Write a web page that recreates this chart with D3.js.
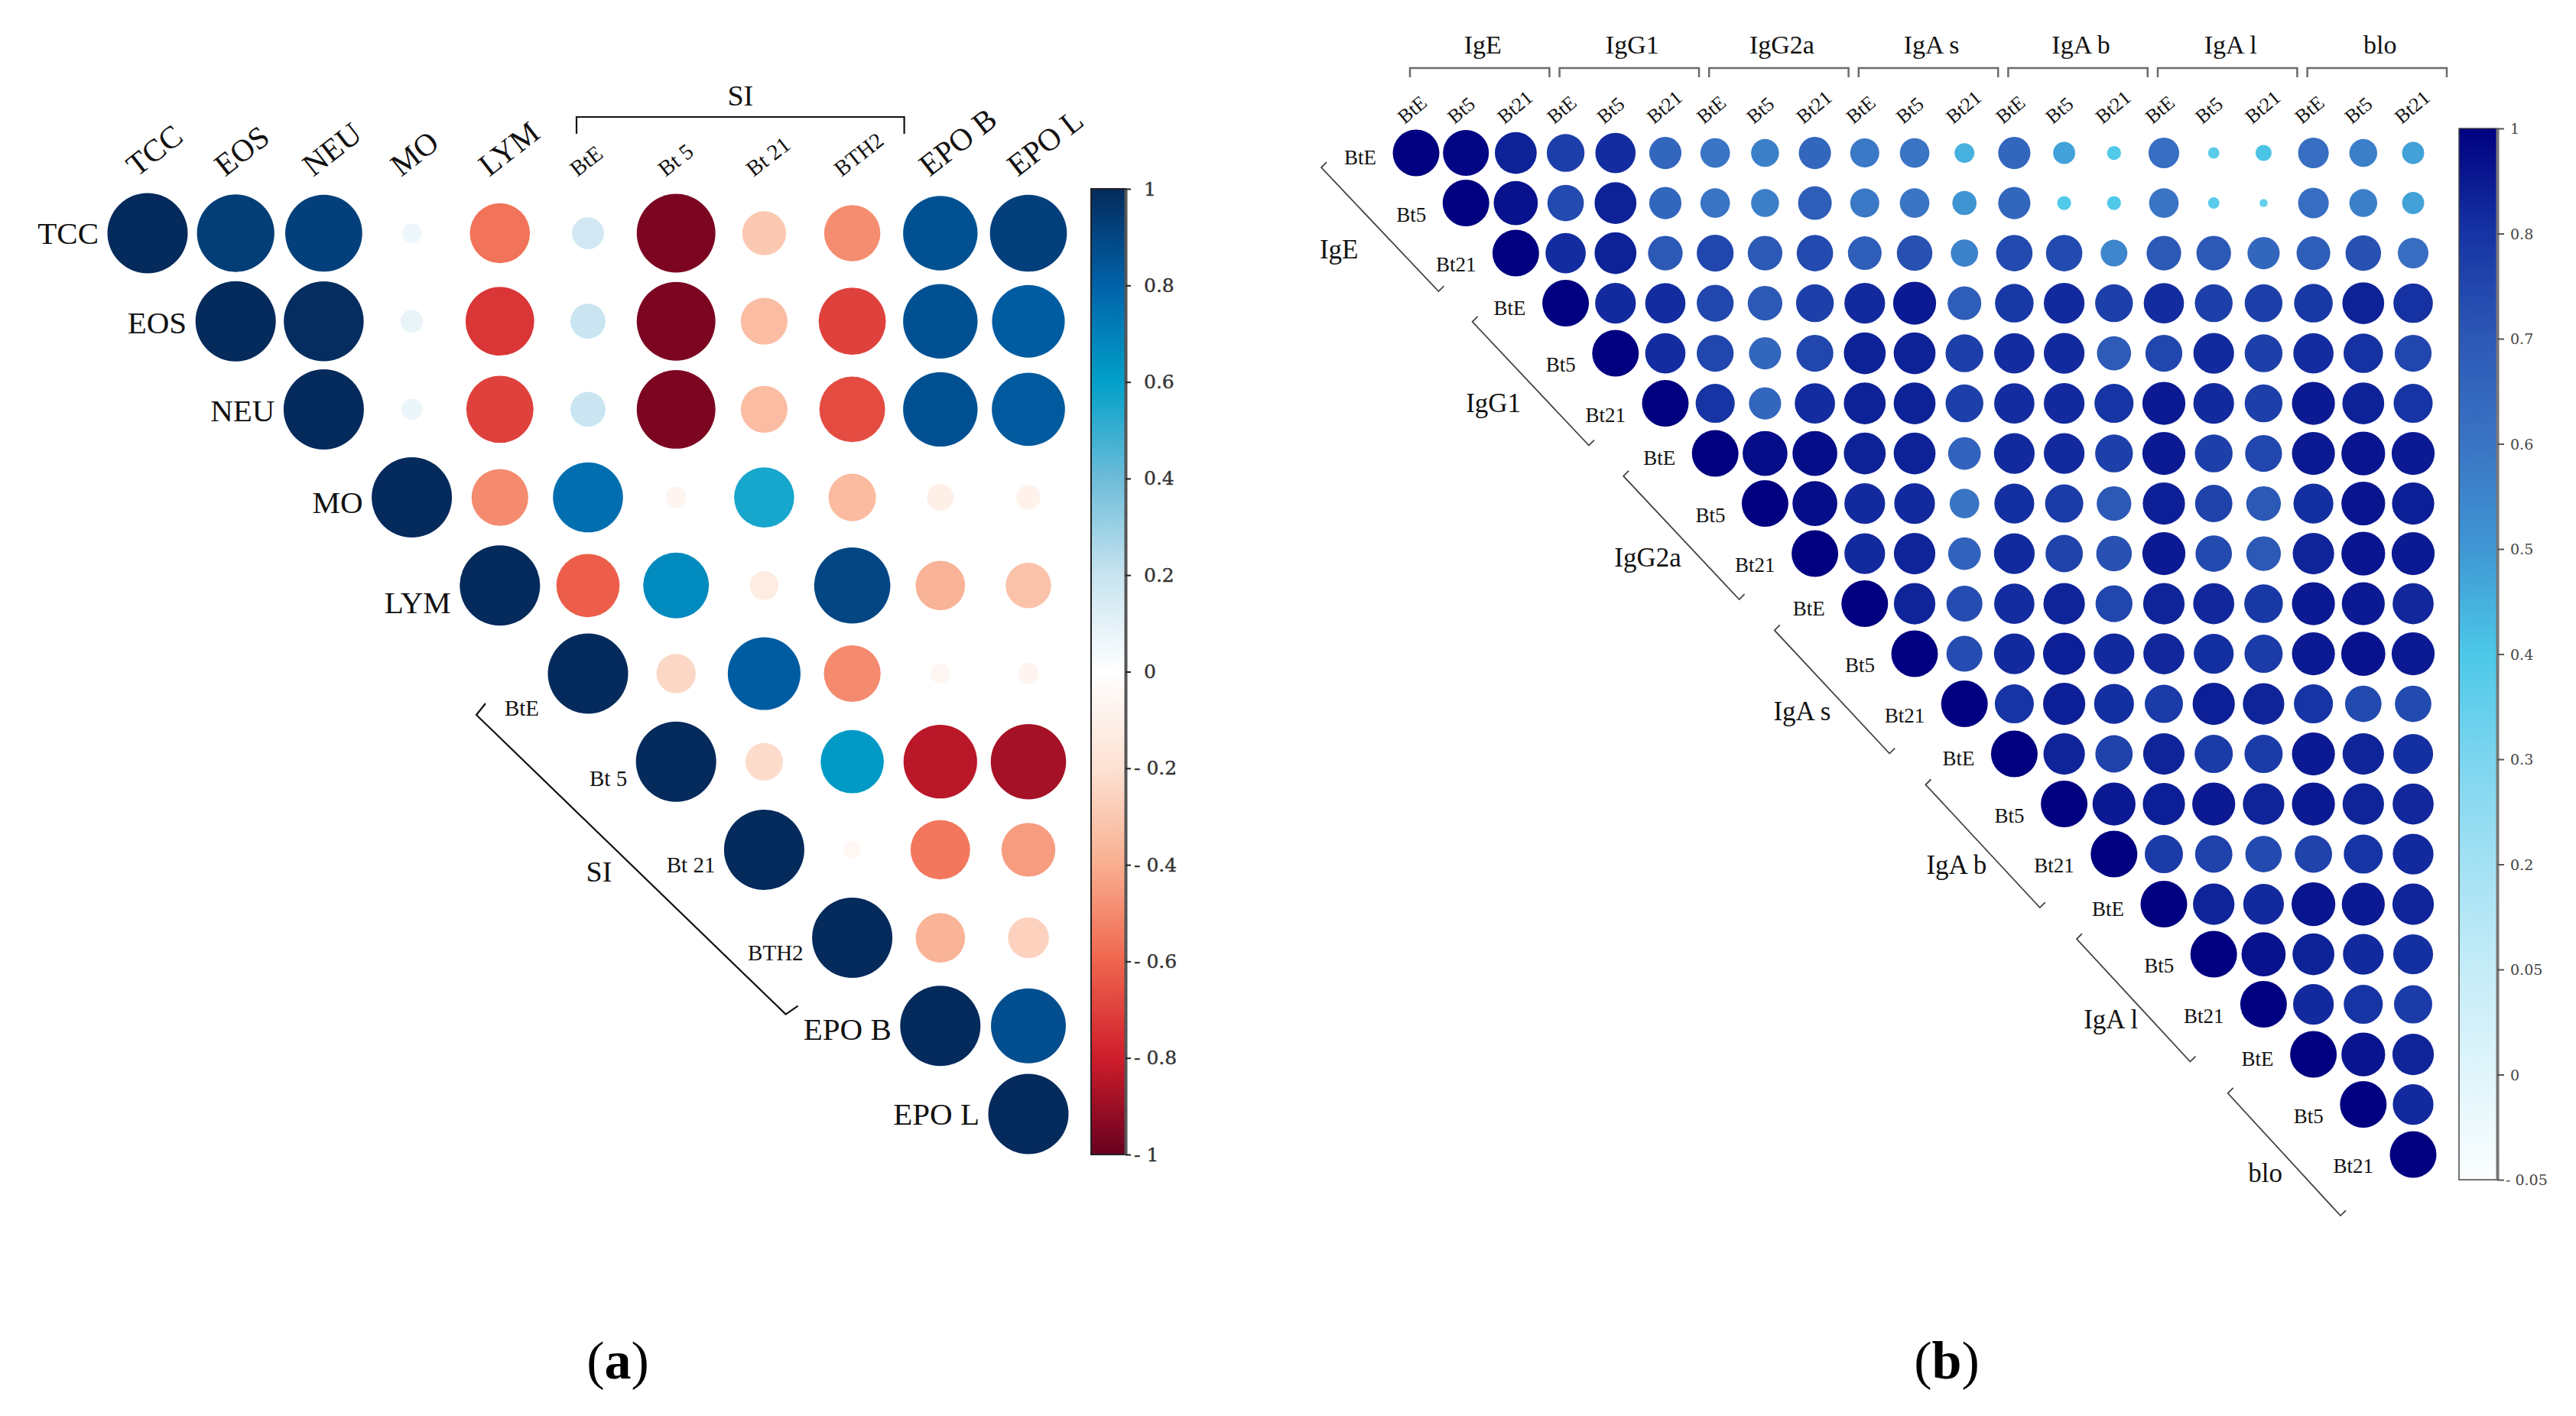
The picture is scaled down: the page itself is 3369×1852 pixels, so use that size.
<!DOCTYPE html>
<html><head><meta charset="utf-8">
<script src="https://cdn.jsdelivr.net/npm/d3@7"></script>
<style>html,body{margin:0;padding:0;background:#fff;} svg{display:block;}</style>
</head><body>
<svg id="chart" width="3369" height="1852"></svg>
<script>
// ================= Panel (a) data =================
const varsA = ["TCC","EOS","NEU","MO","LYM","BtE","Bt 5","Bt 21","BTH2","EPO B","EPO L"];
const smallLabelsA = ["BtE","Bt 5","Bt 21","BTH2"];
// upper-triangle rows (row i holds columns i..10)
const corrA_TCC  = [1, 0.93, 0.92, 0.06, -0.56, 0.16, -0.96, -0.30, -0.49, 0.86, 0.92];
const corrA_EOS  = [1, 0.99, 0.08, -0.73, 0.19, -0.96, -0.34, -0.70, 0.86, 0.82];
const corrA_NEU  = [1, 0.07, -0.70, 0.19, -0.96, -0.34, -0.67, 0.86, 0.83];
const corrA_MO   = [1, -0.50, 0.76, -0.07, 0.56, -0.35, -0.11, -0.09];
const corrA_LYM  = [1, -0.62, 0.67, -0.13, 0.90, -0.38, -0.32];
const corrA_BtE  = [1, -0.24, 0.82, -0.50, -0.06, -0.07];
const corrA_Bt5  = [1, -0.22, 0.62, -0.84, -0.88];
const corrA_Bt21 = [1, -0.05, -0.55, -0.45];
const corrA_BTH2 = [1, -0.38, -0.26];
const corrA_EPOB = [1, 0.87];
const corrA_EPOL = [1];
const ticksA = [1, 0.8, 0.6, 0.4, 0.2, 0, -0.2, -0.4, -0.6, -0.8, -1];
const tickLabelsA = ["1","0.8","0.6","0.4","0.2","0","- 0.2","- 0.4","- 0.6","- 0.8","- 1"];

// ================= Panel (b) data =================
const groupsB = ["IgE","IgG1","IgG2a","IgA s","IgA b","IgA l","blo"];
const subsB = ["BtE","Bt5","Bt21"];
const corrB_r0  = [1, 0.98, 0.87, 0.77, 0.83, 0.65, 0.60, 0.57, 0.65, 0.59, 0.60, 0.45, 0.65, 0.48, 0.39, 0.62, 0.37, 0.41, 0.62, 0.57, 0.48];
const corrB_r1  = [1, 0.93, 0.74, 0.87, 0.65, 0.60, 0.57, 0.68, 0.59, 0.60, 0.51, 0.65, 0.39, 0.39, 0.60, 0.37, 0.35, 0.62, 0.57, 0.48];
const corrB_r2  = [1, 0.83, 0.87, 0.70, 0.75, 0.70, 0.74, 0.68, 0.72, 0.56, 0.74, 0.74, 0.55, 0.70, 0.70, 0.65, 0.68, 0.72, 0.62];
const corrB_r3  = [1, 0.84, 0.83, 0.75, 0.70, 0.77, 0.84, 0.90, 0.68, 0.79, 0.84, 0.77, 0.83, 0.77, 0.77, 0.79, 0.87, 0.81];
const corrB_r4  = [1, 0.83, 0.75, 0.65, 0.75, 0.87, 0.87, 0.77, 0.83, 0.84, 0.69, 0.75, 0.84, 0.77, 0.83, 0.81, 0.75];
const corrB_r5  = [1, 0.80, 0.65, 0.83, 0.87, 0.87, 0.77, 0.83, 0.84, 0.80, 0.90, 0.84, 0.77, 0.90, 0.87, 0.80];
const corrB_r6  = [1, 0.95, 0.95, 0.87, 0.87, 0.66, 0.84, 0.84, 0.77, 0.90, 0.77, 0.75, 0.90, 0.92, 0.90];
const corrB_r7  = [1, 0.95, 0.84, 0.84, 0.60, 0.82, 0.78, 0.70, 0.88, 0.76, 0.70, 0.82, 0.92, 0.88];
const corrB_r8  = [1, 0.84, 0.86, 0.66, 0.84, 0.76, 0.72, 0.90, 0.74, 0.70, 0.86, 0.92, 0.90];
const corrB_r9  = [1, 0.86, 0.73, 0.83, 0.86, 0.75, 0.86, 0.85, 0.79, 0.90, 0.90, 0.85];
const corrB_r10 = [1, 0.73, 0.84, 0.88, 0.84, 0.85, 0.82, 0.78, 0.90, 0.93, 0.90];
const corrB_r11 = [1, 0.80, 0.88, 0.82, 0.78, 0.88, 0.86, 0.80, 0.74, 0.74];
const corrB_r12 = [1, 0.86, 0.76, 0.86, 0.78, 0.78, 0.90, 0.86, 0.82];
const corrB_r13 = [1, 0.90, 0.88, 0.90, 0.86, 0.90, 0.86, 0.85];
const corrB_r14 = [1, 0.78, 0.76, 0.74, 0.76, 0.80, 0.84];
const corrB_r15 = [1, 0.86, 0.84, 0.92, 0.90, 0.86];
const corrB_r16 = [1, 0.93, 0.87, 0.84, 0.82];
const corrB_r17 = [1, 0.84, 0.80, 0.78];
const corrB_r18 = [1, 0.92, 0.86];
const corrB_r19 = [1, 0.84];
const corrB_r20 = [1];
const ticksB = [1, 0.8, 0.7, 0.6, 0.5, 0.4, 0.3, 0.2, 0.05, 0, -0.05];
const tickLabelsB = ["1","0.8","0.7","0.6","0.5","0.4","0.3","0.2","0.05","0","- 0.05"];

// ================= styles =================
const coloursA = ["#052a5c","#0062a9","#01a0c9","#6dbcd9","#c7e4f0","#ffffff","#fde1d3","#f9ae8f","#ef654d","#cf1d2b","#67001f"];
const coloursB = ["#000080","#1634a4","#2c58b6","#3a74c4","#3f97d4","#4cc8e8","#7cd5ef","#a3e1f4","#c5ecf8","#e0f5fb","#fbfeff"];
const serif = "'Liberation Serif','Times New Roman',serif";
const tickFont = "'DejaVu Serif',serif";

const svg = d3.select("#chart");
svg.append("rect").attr("width",3369).attr("height",1852).attr("fill","#fff");
const defs = svg.append("defs");

// ================= Panel (a) =================
const corrA = [corrA_TCC,corrA_EOS,corrA_NEU,corrA_MO,corrA_LYM,corrA_BtE,corrA_Bt5,corrA_Bt21,corrA_BTH2,corrA_EPOB,corrA_EPOL];
const xA = d3.scaleBand().domain(varsA).range([135.4, 1402.6]);
const yA = d3.scaleBand().domain(varsA).range([247.4, 1514.6]);
const cxA = v => xA(v) + xA.bandwidth()/2;
const cyA = v => yA(v) + yA.bandwidth()/2;
const colorA = d3.scaleLinear().domain(ticksA).range(coloursA);
const radA = d3.scaleSqrt().domain([0,1]).range([0,52.5]);

const cellsA = [];
corrA.forEach((row,i) => row.forEach((v,k) => cellsA.push({r: varsA[i], c: varsA[i+k], v})));
const gA = svg.append("g");
gA.selectAll("circle.ca").data(cellsA).join("circle").attr("class","ca")
  .attr("cx", d => cxA(d.c)).attr("cy", d => cyA(d.r))
  .attr("r", d => radA(Math.abs(d.v))).attr("fill", d => colorA(d.v));

const isSmallA = v => smallLabelsA.includes(v);
const rowDyA = {"TCC":0,"EOS":2,"NEU":2,"MO":6,"LYM":22,"BtE":45,"Bt 5":22,"Bt 21":20,"BTH2":19,"EPO B":4,"EPO L":0};
gA.selectAll("text.rowA").data(varsA).join("text").attr("class","rowA")
  .attr("x", v => cxA(v) - 64).attr("y", v => cyA(v) + rowDyA[v])
  .attr("text-anchor","end").attr("dominant-baseline","central")
  .attr("font-family", serif).attr("font-size", v => isSmallA(v) ? 29 : 41).attr("fill","#111")
  .text(v => v);
gA.selectAll("text.colA").data(varsA).join("text").attr("class","colA")
  .attr("transform", v => `translate(${cxA(v)-14},232) rotate(-38)`)
  .attr("font-family", serif).attr("font-size", v => isSmallA(v) ? 29 : 41).attr("fill","#111")
  .text(v => v);

// SI top bracket
const siX1 = cxA("BtE") - 15, siX2 = cxA("BTH2") + 68;
gA.append("path").attr("d", `M${siX1},175V153H${siX2}V175`).attr("fill","none").attr("stroke","#111").attr("stroke-width",2.2);
gA.append("text").attr("x",(siX1+siX2)/2).attr("y",125).attr("text-anchor","middle").attr("dominant-baseline","central")
  .attr("font-family",serif).attr("font-size",38).attr("fill","#111").text("SI");
// SI left bracket
const p1 = [cxA("BtE") - 146, cyA("BtE") + 54];
const p2 = [cxA("BTH2") - 87, cyA("BTH2") + 100];
gA.append("path").attr("d", `M${p1[0]+12},${p1[1]-15}L${p1[0]},${p1[1]}L${p2[0]},${p2[1]}L${p2[0]+16},${p2[1]-11}`)
  .attr("fill","none").attr("stroke","#111").attr("stroke-width",2.2);
gA.append("text").attr("x", cxA("Bt 21") - 216).attr("y", cyA("Bt 21") + 29)
  .attr("text-anchor","middle").attr("dominant-baseline","central")
  .attr("font-family",serif).attr("font-size",38).attr("fill","#111").text("SI");

// colour bar (a)
const gradA = defs.append("linearGradient").attr("id","gradA").attr("x1",0).attr("x2",0).attr("y1",0).attr("y2",1);
gradA.selectAll("stop").data(ticksA).join("stop")
  .attr("offset",(d,i) => i/(ticksA.length-1)).attr("stop-color", d => colorA(d));
const cbA = {x:1427, y:247, w:45, h:1263};
const yCbA = d3.scaleLinear().domain([-1,1]).range([cbA.y+cbA.h, cbA.y]);
gA.append("rect").attr("x",cbA.x).attr("y",cbA.y).attr("width",cbA.w).attr("height",cbA.h)
  .attr("fill","url(#gradA)").attr("stroke","#222").attr("stroke-width",2);
const axA = gA.append("g").attr("transform",`translate(${cbA.x+cbA.w},0)`)
  .call(d3.axisRight(yCbA).tickValues(ticksA).tickSize(7).tickSizeOuter(0).tickFormat(""));
axA.select(".domain").attr("stroke","#555").attr("stroke-width",4);
axA.selectAll(".tick line").attr("stroke","#222").attr("stroke-width",2);
gA.selectAll("text.tkA").data(ticksA).join("text").attr("class","tkA")
  .attr("x",(d,i) => d < 0 ? cbA.x+cbA.w+11 : cbA.x+cbA.w+24).attr("y", d => yCbA(d))
  .attr("dominant-baseline","central").attr("font-family",tickFont).attr("font-size",25).attr("fill","#333")
  .attr("stroke","#333").attr("stroke-width",0.4)
  .text((d,i) => tickLabelsA[i]);

// ================= Panel (b) =================
const corrB = [corrB_r0,corrB_r1,corrB_r2,corrB_r3,corrB_r4,corrB_r5,corrB_r6,corrB_r7,corrB_r8,corrB_r9,corrB_r10,
               corrB_r11,corrB_r12,corrB_r13,corrB_r14,corrB_r15,corrB_r16,corrB_r17,corrB_r18,corrB_r19,corrB_r20];
const varsB = groupsB.flatMap(g => subsB.map(s => g + "|" + s));
const xB = d3.scaleBand().domain(varsB).range([1819.4, 3188.6]);
const yB = d3.scaleBand().domain(varsB).range([167.3, 1542.8]);
const cxB = v => xB(v) + xB.bandwidth()/2;
const cyB = v => yB(v) + yB.bandwidth()/2;
const colorB = d3.scaleLinear().domain(ticksB).range(coloursB);
const sizeFracB = d3.scaleLinear().domain([0.33,1]).range([0,1]).clamp(true);
const radB = v => 30.5 * Math.sqrt(sizeFracB(v));

const cellsB = [];
corrB.forEach((row,i) => row.forEach((v,k) => cellsB.push({r: varsB[i], c: varsB[i+k], v})));
const gB = svg.append("g");
gB.selectAll("circle.cb").data(cellsB).join("circle").attr("class","cb")
  .attr("cx", d => cxB(d.c)).attr("cy", d => cyB(d.r))
  .attr("r", d => radB(d.v)).attr("fill", d => colorB(d.v));

// top group labels and brackets
const gi = d3.range(groupsB.length);
const firstB = g => groupsB[g] + "|" + subsB[0];
const midB = g => groupsB[g] + "|" + subsB[1];
const lastB = g => groupsB[g] + "|" + subsB[2];
gB.selectAll("text.topG").data(gi).join("text").attr("class","topG")
  .attr("x", g => cxB(midB(g)) + 22).attr("y", 58)
  .attr("text-anchor","middle").attr("dominant-baseline","central")
  .attr("font-family",serif).attr("font-size",34).attr("fill","#111").text(g => groupsB[g]);
gB.selectAll("path.topBr").data(gi).join("path").attr("class","topBr")
  .attr("d", g => `M${cxB(firstB(g))-8},101V89H${cxB(lastB(g))+44}V101`)
  .attr("fill","none").attr("stroke","#6b6b6b").attr("stroke-width",2.5);
// column sub-labels
gB.selectAll("text.colB").data(varsB).join("text").attr("class","colB")
  .attr("transform", v => `translate(${cxB(v)-15},163) rotate(-40)`)
  .attr("font-family",serif).attr("font-size",26).attr("fill","#111")
  .text(v => v.split("|")[1]);
// row sub-labels
const rowDyB = {"BtE":6,"Bt5":15,"Bt21":15};
gB.selectAll("text.rowB").data(varsB).join("text").attr("class","rowB")
  .attr("x", v => cxB(v) - 52).attr("y", v => cyB(v) + rowDyB[v.split("|")[1]])
  .attr("text-anchor","end").attr("dominant-baseline","central")
  .attr("font-family",serif).attr("font-size",27).attr("fill","#111")
  .text(v => v.split("|")[1]);
// left group labels and diagonal brackets
gB.selectAll("text.leftG").data(gi).join("text").attr("class","leftG")
  .attr("x", g => cxB(midB(g)) - 166 + g*6.3).attr("y", g => cyB(midB(g)) + 61 + g*4.8)
  .attr("text-anchor","middle").attr("dominant-baseline","central")
  .attr("font-family",serif).attr("font-size",35).attr("fill","#111").text(g => groupsB[g]);
gB.selectAll("path.leftBr").data(gi).join("path").attr("class","leftBr")
  .attr("d", g => {
    const s = [cxB(firstB(g)) - 124 + 2*g, cyB(firstB(g)) + 19 + 5.3*g];
    const e = [cxB(lastB(g)) - 101 + g, cyB(lastB(g)) + 50 + 5*g];
    return `M${s[0]+7},${s[1]-7}L${s[0]},${s[1]}L${e[0]},${e[1]}L${e[0]+7},${e[1]-7}`;
  })
  .attr("fill","none").attr("stroke","#444").attr("stroke-width",1.8);

// colour bar (b)
const cbB = {x:3216, y:168, w:50, h:1375};
const yCbB = d3.scaleLinear().domain(ticksB).range(ticksB.map((d,i) => cbB.y + i*cbB.h/(ticksB.length-1)));
const gradB = defs.append("linearGradient").attr("id","gradB").attr("x1",0).attr("x2",0).attr("y1",0).attr("y2",1);
gradB.selectAll("stop").data(ticksB).join("stop")
  .attr("offset", d => (yCbB(d)-cbB.y)/cbB.h).attr("stop-color", d => colorB(d));
gB.append("rect").attr("x",cbB.x).attr("y",cbB.y).attr("width",cbB.w).attr("height",cbB.h)
  .attr("fill","url(#gradB)").attr("stroke","#444").attr("stroke-width",1.5);
const axB = gB.append("g").attr("transform",`translate(${cbB.x+cbB.w},0)`)
  .call(d3.axisRight(yCbB).tickValues(ticksB).tickSize(9).tickSizeOuter(0).tickFormat(""));
axB.select(".domain").attr("stroke","#777").attr("stroke-width",4);
axB.selectAll(".tick line").attr("stroke","#555").attr("stroke-width",2);
gB.selectAll("text.tkB").data(ticksB).join("text").attr("class","tkB")
  .attr("x", d => d < 0 ? cbB.x+cbB.w+11 : cbB.x+cbB.w+17).attr("y", d => yCbB(d))
  .attr("dominant-baseline","central").attr("font-family",tickFont).attr("font-size",19).attr("fill","#444")
  .text((d,i) => tickLabelsB[i]);

// ================= panel captions =================
[["a",808],["b",2546]].forEach(([l,x]) => {
  const t = svg.append("text").attr("x",x).attr("y",1779).attr("text-anchor","middle").attr("dominant-baseline","central")
    .attr("font-family",serif).attr("font-size",70).attr("fill","#000");
  t.append("tspan").text("(");
  t.append("tspan").attr("font-weight","bold").text(l);
  t.append("tspan").text(")");
});
</script>
</body></html>
